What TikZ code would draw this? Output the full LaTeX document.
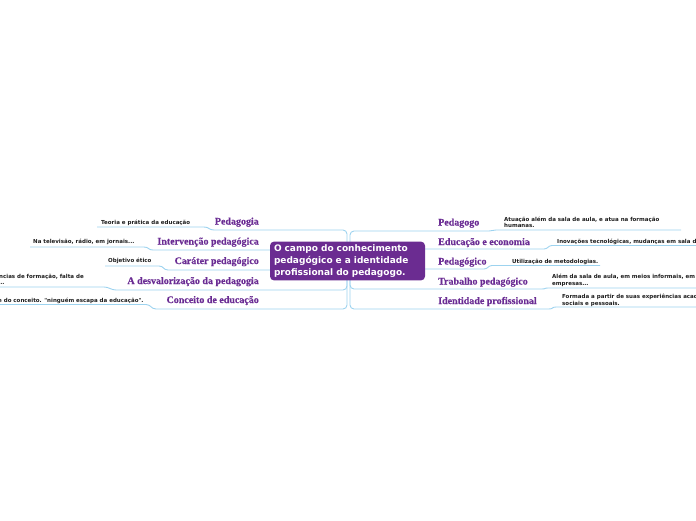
\documentclass[tikz,border=0pt]{standalone}
\usepackage{fontspec}
\setmainfont{Liberation Serif}
\newfontfamily\dvs{DejaVu Sans}
\newfontfamily\lblfont{Liberation Serif Bold}[FakeBold=0.5]
\definecolor{mmpurple}{HTML}{6B2C91}
\definecolor{mmline}{HTML}{9DD3EF}
\definecolor{mmlabel}{HTML}{6A2C93}
\definecolor{subtext}{HTML}{1E1E1E}
\tikzset{
  conn/.style={draw=mmline, line width=0.9pt, rounded corners=4pt},
  lbl/.style={text=mmlabel, font=\lblfont\fontsize{10}{12}\selectfont, inner sep=0pt},
  subt/.style={text=subtext, font=\dvs\bfseries\fontsize{5.5}{6.5}\selectfont, inner sep=0pt, align=left},
  rootbox/.style={fill=mmpurple, rounded corners=4pt, text=white,
     font=\dvs\bfseries\fontsize{9}{12}\selectfont, align=left,
     text width=147pt, inner xsep=4pt, inner ysep=3pt, minimum height=38pt}
}
\begin{document}
\begin{tikzpicture}[x=1pt,y=-1pt]
\useasboundingbox (0,0) rectangle (696,520);
\clip (0,0) rectangle (696,520);
\coordinate (tl) at (347,262);
\coordinate (tr) at (350,262);

% ---------- left branches
\coordinate (l1a) at (218,230); \coordinate (l1b) at (200,227); \coordinate (l1e) at (97,227);
\coordinate (l2a) at (157,250); \coordinate (l2b) at (140,247); \coordinate (l2e) at (30,247);
\coordinate (l3a) at (172,270); \coordinate (l3b) at (155,266); \coordinate (l3e) at (105,266);
\coordinate (l4a) at (120,290); \coordinate (l4b) at (100,287); \coordinate (l4e) at (-5,287);
\coordinate (l5a) at (160,309); \coordinate (l5b) at (142,304.5); \coordinate (l5e) at (-5,304.5);
\foreach \i in {1,...,5}{
  \draw[conn] (tl) |- (l\i a) .. controls ([xshift=-9pt]l\i a) and ([xshift=9pt]l\i b) .. (l\i b) -- (l\i e);
}
% ---------- right branches
\coordinate (r1a) at (485,231); \coordinate (r1b) at (500,230); \coordinate (r1e) at (681,230);
\coordinate (r2a) at (540,249); \coordinate (r2b) at (556,245.5); \coordinate (r2e) at (700,245.5);
\coordinate (r3a) at (480,269); \coordinate (r3b) at (496,265.5); \coordinate (r3e) at (600,265.5);
\coordinate (r4a) at (538,289); \coordinate (r4b) at (552,288); \coordinate (r4e) at (700,288);
\coordinate (r5a) at (545,309); \coordinate (r5b) at (560,307); \coordinate (r5e) at (700,307);
\foreach \i in {1,...,5}{
  \draw[conn] (tr) |- (r\i a) .. controls ([xshift=8pt]r\i a) and ([xshift=-8pt]r\i b) .. (r\i b) -- (r\i e);
}

% ---------- central node
\node[rootbox] (root) at (347.5,261) {O campo do conhecimento pedagógico e a identidade profissional do pedagogo.};

% ---------- left labels
\node[lbl, anchor=base east] (pedagogia) at (259,224.5) {Pedagogia};
\node[lbl, anchor=base east] (intervencao) at (259,244.5) {Intervenção pedagógica};
\node[lbl, anchor=base east] (carater) at (259,264) {Caráter pedagógico};
\node[lbl, anchor=base east] (desval) at (259,284) {A desvalorização da pedagogia};
\node[lbl, anchor=base east] (conceito) at (259,303) {Conceito de educação};

\node[subt, anchor=base west] (s1) at (101,224) {Teoria e prática da educação};
\node[subt, anchor=base west] (s2) at (33,243.5) {Na televisão, rádio, em jornais...};
\node[subt, anchor=base west] (s3) at (108,262.5) {Objetivo ético};
\node[subt, anchor=base west] (s4) at (-1,278) {ncias de formação, falta de};
\node[subt, anchor=base west] (s4b) at (-2,284.5) {...};
\node[subt, anchor=base west] (s5) at (-2,302) {e do conceito. "ninguém escapa da educação".};

% ---------- right labels
\node[lbl, anchor=base west] (pedagogo) at (438,225.5) {Pedagogo};
\node[lbl, anchor=base west] (educeco) at (438,245) {Educação e economia};
\node[lbl, anchor=base west] (pedagogico) at (438,264.5) {Pedagógico};
\node[lbl, anchor=base west] (trabalho) at (438,284.5) {Trabalho pedagógico};
\node[lbl, anchor=base west] (identidade) at (438,304) {Identidade profissional};

\node[subt, anchor=base west] (t1) at (504,227.5) {Atuação além da sala de aula, e atua na formação\\humanas.};
\node[subt, anchor=base west] (t2) at (557,243.5) {Inovações tecnológicas, mudanças em sala de aula};
\node[subt, anchor=base west] (t3) at (512,263) {Utilização de metodologias.};
\node[subt, anchor=base west] (t4) at (552,285) {Além da sala de aula, em meios informais, em\\empresas...};
\node[subt, anchor=base west] (t5) at (562,305) {Formada a partir de suas experiências acadêmicas,\\sociais e pessoais.};
\end{tikzpicture}
\end{document}
